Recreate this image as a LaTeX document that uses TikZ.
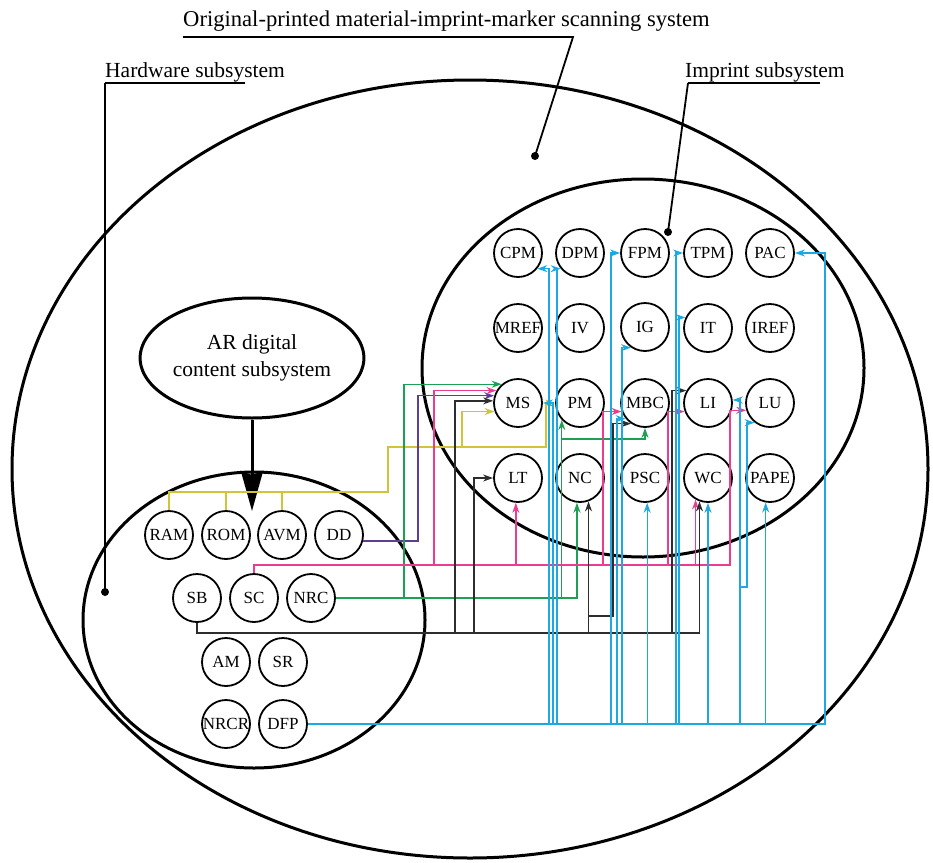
\documentclass[tikz,border=0pt]{standalone}
\usepackage{fontspec}
\setmainfont{Liberation Serif}
\usetikzlibrary{arrows.meta,shapes.geometric}

\definecolor{lnblue}{RGB}{28,168,224}
\definecolor{lnyellow}{RGB}{210,196,58}
\definecolor{lnpink}{RGB}{234,60,145}
\definecolor{lngreen}{RGB}{28,160,84}
\definecolor{lnpurple}{RGB}{92,62,152}
\definecolor{lngray}{RGB}{45,45,45}

\begin{document}
\begin{tikzpicture}[x=1pt,y=-1pt,
    comp/.style={circle,draw,line width=1.8pt,minimum size=48pt,inner sep=0pt,
      font=\fontsize{17}{19}\selectfont},
    sysline/.style={line width=3pt},
    lead/.style={line width=1.8pt},
    tag/.style={anchor=base west,inner sep=0pt,font=\fontsize{21.5}{25}\selectfont},
    arr/.style={-{Stealth[length=10pt,width=7pt]}},
    cy/.style={lnblue,line width=1.3pt},
    yl/.style={lnyellow,line width=1.5pt},
    pk/.style={lnpink,line width=1.4pt},
    gn/.style={lngreen,line width=1.4pt},
    pu/.style={lnpurple,line width=1.4pt},
    bk/.style={lngray,line width=1.4pt}]
\useasboundingbox (0,0) rectangle (933,862);

% subsystems
\draw[sysline] (470,469) ellipse [x radius=458, y radius=389];
\draw[sysline] (643,368) ellipse [x radius=221, y radius=189];
\draw[sysline] (254,620) ellipse [x radius=171, y radius=148];

% imprint subsystem
\foreach \n/\x/\y in {CPM/518/253,DPM/580/253,FPM/645/253,TPM/708/253,PAC/770/253,
    MREF/518/328,IV/580/328,IG/645/327,IT/708/328,IREF/770/328,
    MS/518/403,PM/580/403,MBC/645/403,LI/708/403,LU/770/403,
    LT/518/478,NC/580/478,PSC/645/478,WC/708/478,PAPE/770/478}
  \node[comp] (\n) at (\x,\y) {\n};

% hardware subsystem
\foreach \n/\x/\y in {RAM/169/535,ROM/226/535,AVM/282/535,DD/339/535,
    SB/197/598,SC/254/598,NRC/311/598,AM/226/662,SR/283/662,
    NRCR/226/724,DFP/283/724}
  \node[comp] (\n) at (\x,\y) {\n};

% AR content
\node[ellipse,draw,line width=3pt,minimum width=214pt,minimum height=120pt,inner sep=0pt,
  align=center,font=\fontsize{21.5}{27}\selectfont] (ARC) at (252,358) {AR digital\\content subsystem};
\draw[line width=3pt,-{Stealth[length=40pt,width=22pt,inset=4pt]}] (ARC.south) -- (ARC.south |- 0,511);

% labels
\node[tag,font=\fontsize{22.6}{26}\selectfont] (ttl) at (183,27) {Original-printed material-imprint-marker scanning system};
\node[tag] (hwl) at (105,77) {Hardware subsystem};
\node[tag] (iml) at (685,77) {Imprint subsystem};
\coordinate (sysdot) at (535,156);
\coordinate (hwdot) at (105,592);
\coordinate (imdot) at (668,232);
\draw[lead] ([yshift=-10pt]ttl.base west) -- ++(390,0) -- (sysdot);
\draw[lead] ([yshift=-6pt]hwl.base west) -- ++(140,0);
\draw[lead] ([yshift=-6pt]hwl.base west) -- (hwdot);
\draw[lead] ([yshift=-6pt,xshift=3pt]iml.base west) -- ++(132,0);
\draw[lead] ([yshift=-6pt,xshift=3pt]iml.base west) -- (imdot);
\foreach \d in {sysdot,hwdot,imdot} \fill (\d) circle (4pt);

% bus levels
\coordinate (ylbus) at (0,492);
\coordinate (pkbus) at (0,565);
\coordinate (gnbus) at (0,598);
\coordinate (gnup) at (0,439);
\coordinate (bkbus) at (0,633);
\coordinate (bkbox) at (0,616);
\coordinate (cybus) at (0,724);

% yellow
\draw[yl,arr] (RAM.north) |- (388,492) |- (546,447) |- (PM.west);
\draw[yl] (ROM.north) -- (ROM.north |- ylbus);
\draw[yl] (AVM.north) -- (AVM.north |- ylbus);
\draw[yl,arr] (462,447) |- (MS.200);

% purple
\draw[pu,arr] (DD.-14) -| (418,450) |- (MS.163);

% green
\draw[gn,arr] (NRC.east) -| (NC.-97);
\draw[gn,arr] (404,598) |- (MS.131);
\draw[gn,arr] (PM.223 |- gnbus) -- (PM.223);
\draw[gn,arr] (PM.223 |- gnup) -| (MBC.south);

% pink
\draw[pk,arr] (SC.north) |- (730,565) |- (LU.197);
\draw[pk,arr] (434,565) |- (MS.150);
\draw[pk,arr] (LT.-95 |- pkbus) -- (LT.-95);
\draw[pk,arr] (603,565) |- (MBC.200);
\draw[pk,arr] (668,565) |- (LI.200);
\draw[pk,arr] (WC.-120 |- pkbus) -- (WC.-120);

% black
\draw[bk,arr] (SB.south) |- (WC.-110 |- bkbus) -- (WC.-110);
\draw[bk,arr] (455,633) |- (MS.175);
\draw[bk,arr] (474,633) |- (LT.west);
\draw[bk,arr] (NC.-70 |- bkbus) -- (NC.-70);
\draw[bk,arr] (NC.-70 |- bkbox) -- (613,616) |- (MBC.236);
\draw[bk,arr] (672,633) |- (LI.150);

% blue
\draw[cy,arr] (DFP.east) -| (825,400) |- (PAC.east);
\foreach \x/\tg in {549/CPM.-39,553/MS.east,557/DPM.219,611/FPM.west,617/MBC.219,
    622/IG.236,676/TPM.west,679/IT.155}
  \draw[cy,arr] (\x,724) |- (\tg);
\draw[cy,arr] (PSC.-85 |- cybus) -- (PSC.-85);
\draw[cy,arr] (WC.south |- cybus) -- (WC.south);
\draw[cy,arr] (PAPE.-100 |- cybus) -- (PAPE.-100);
\draw[cy,arr] (740,724) |- (747,587) |- (LU.232);
\draw[cy,arr] (740,587) |- (LI.7);
\end{tikzpicture}
\end{document}
